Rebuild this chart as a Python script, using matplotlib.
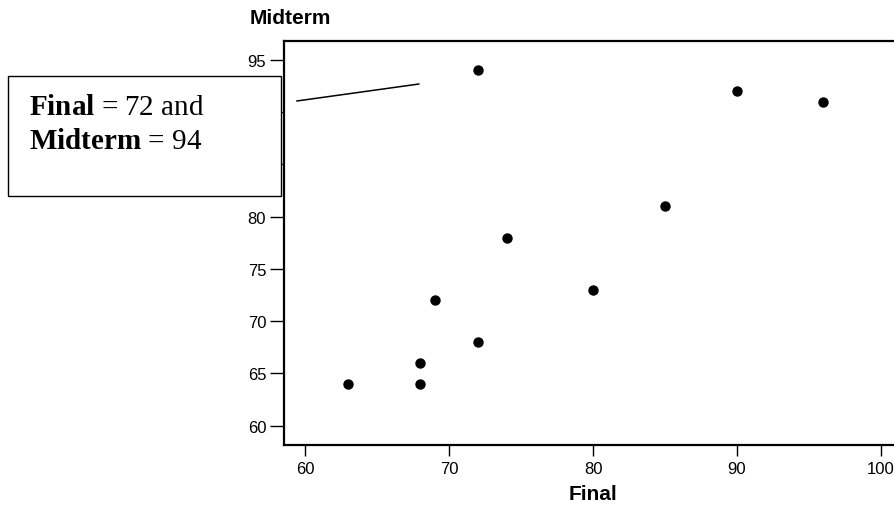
import matplotlib
matplotlib.use("Agg")
import matplotlib.pyplot as plt
from matplotlib.patches import Rectangle

# data
final = [63, 68, 68, 69, 72, 72, 74, 80, 85, 90, 96]
midterm = [64, 64, 66, 72, 68, 94, 78, 73, 81, 92, 91]
x_ticks = [60, 70, 80, 90, 100]
y_ticks = [60, 65, 70, 75, 80, 85, 90, 95]

# pointer line from callout box toward the point (72, 94)
pointer_x = [59.44, 67.9]
pointer_y = [91.08, 92.7]

plt.rcParams['font.family'] = ['Liberation Sans', 'DejaVu Sans']
plt.rcParams['mathtext.fontset'] = 'custom'
plt.rcParams['mathtext.rm'] = 'Liberation Serif'
plt.rcParams['mathtext.bf'] = 'Liberation Serif:bold'

W, H = 894, 506
fig = plt.figure(figsize=(W / 100, H / 100), dpi=100)
ax = fig.add_axes([284.3 / W, 1 - 445.7 / H, 611.7 / W, 403.4 / H])

ax.scatter(final, midterm, s=42, color='black', zorder=3)
ax.plot(pointer_x, pointer_y, color='black', lw=1.1)

ax.set_xlim(58.56, 101.04)
ax.set_ylim(58.18, 96.79)
ax.set_xticks(x_ticks)
ax.set_yticks(y_ticks)
ax.tick_params(axis='x', length=8, width=1, labelsize=12, pad=4)
ax.tick_params(axis='y', length=10, width=1, labelsize=12, pad=3)
for s in ax.spines.values():
    s.set_linewidth(1.6)

fig.text(250 / W, 1 - 18 / H, "Midterm", fontsize=15, fontweight='bold',
         ha='left', va='center')
fig.text(593 / W, 1 - 495 / H, "Final", fontsize=15, fontweight='bold',
         ha='center', va='center')

# callout box
box = Rectangle((8 / W, 1 - 197 / H), 273 / W, 120 / H, transform=fig.transFigure,
                facecolor='white', edgecolor='black', lw=1.0, zorder=5)
fig.patches.append(box)
fig.text(29 / W, 1 - 115 / H, r"$\mathbf{Final}$ = 72 and", fontsize=21,
         family='Liberation Serif', ha='left', va='baseline', zorder=6)
fig.text(29 / W, 1 - 149 / H, r"$\mathbf{Midterm}$ = 94", fontsize=21,
         family='Liberation Serif', ha='left', va='baseline', zorder=6)

fig.savefig("out.png", dpi=100)
